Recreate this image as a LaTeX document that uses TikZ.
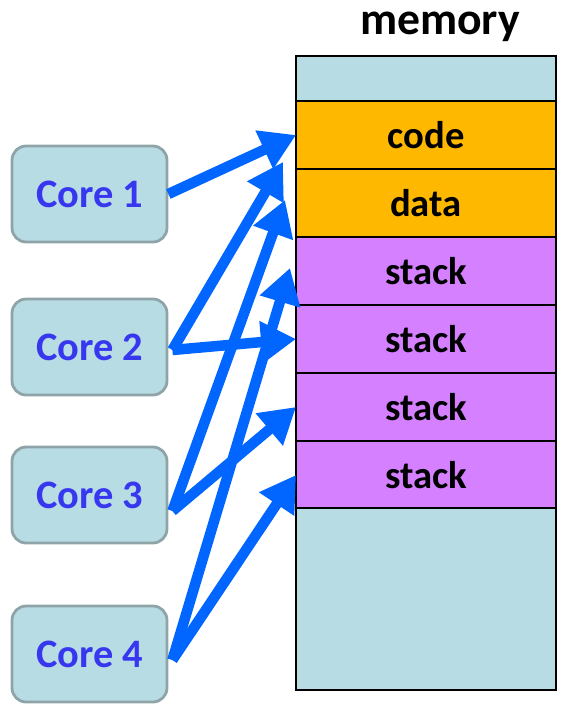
\documentclass[tikz,border=0pt]{standalone}
\usepackage{fontspec}
\setmainfont{Carlito}
\usetikzlibrary{arrows.meta}
\usetikzlibrary{positioning}
\usetikzlibrary{calc}

\definecolor{memblue}{RGB}{184,220,227}
\definecolor{codeorange}{RGB}{255,184,0}
\definecolor{stackpurple}{RGB}{212,128,255}
\definecolor{arrowblue}{RGB}{0,102,255}
\definecolor{coretext}{RGB}{55,55,240}
\definecolor{coreedge}{RGB}{143,164,168}

\tikzset{
  memblock/.style={draw=black, line width=1.2pt, minimum width=5.2cm, inner sep=0pt, outer sep=0pt,
    font=\bfseries\fontsize{22}{26}\selectfont},
  corebox/.style={draw=coreedge, line width=1.6pt, fill=memblue, rounded corners=8pt,
    minimum width=3.1cm, minimum height=1.92cm, inner sep=0pt,
    text=coretext, font=\bfseries\fontsize{23}{27}\selectfont},
  access/.style={draw=arrowblue, line width=0.21cm, -{Triangle[length=0.7cm,width=0.8cm]}}
}

\begin{document}
\begin{tikzpicture}[x=0.02cm, y=-0.02cm]
\useasboundingbox (0,0) rectangle (572,707);

%memory
\node[font=\bfseries\fontsize{26}{30}\selectfont] (title) at (440,27) {memory};
\node[memblock, fill=memblue, minimum height=0.9cm] (top) at (426,78.5) {};
\node[memblock, fill=codeorange, minimum height=1.36cm] (code) at (426,135) {code};
\node[memblock, fill=codeorange, minimum height=1.36cm] (data) at (426,203) {data};
\node[memblock, fill=stackpurple, minimum height=1.36cm] (stacka) at (426,271) {stack};
\node[memblock, fill=stackpurple, minimum height=1.36cm] (stackb) at (426,339) {stack};
\node[memblock, fill=stackpurple, minimum height=1.36cm] (stackc) at (426,407) {stack};
\node[memblock, fill=stackpurple, minimum height=1.36cm] (stackd) at (426,475) {stack};
\node[memblock, fill=memblue, minimum height=3.64cm] (free) at (426,599) {};

%cores
\node[corebox] (c1) at (89.5,194) {Core 1};
\node[corebox] (c2) at (89.5,347) {Core 2};
\node[corebox] (c3) at (89.5,495) {Core 3};
\node[corebox] (c4) at (89.5,654) {Core 4};

%tips that stop short of the blocks
\coordinate (t2) at (283,162);
\coordinate (t3) at (285,200);
\coordinate (t4) at (290,268);

%accesses
\draw[access] (c1.east) -- (code.west);
\draw[access] ($(c2.east)+(4,3)$) -- (t2);
\draw[access] ($(c2.east)+(4,3)$) -- (stackb.west);
\draw[access] ($(c3.east)+(4,16)$) -- (t3);
\draw[access] ($(c3.east)+(4,16)$) -- (stackc.west);
\draw[access] ($(c4.east)+(4,6)$) -- (t4);
\draw[access] ($(c4.east)+(4,6)$) -- (stackd.west);
\end{tikzpicture}
\end{document}
